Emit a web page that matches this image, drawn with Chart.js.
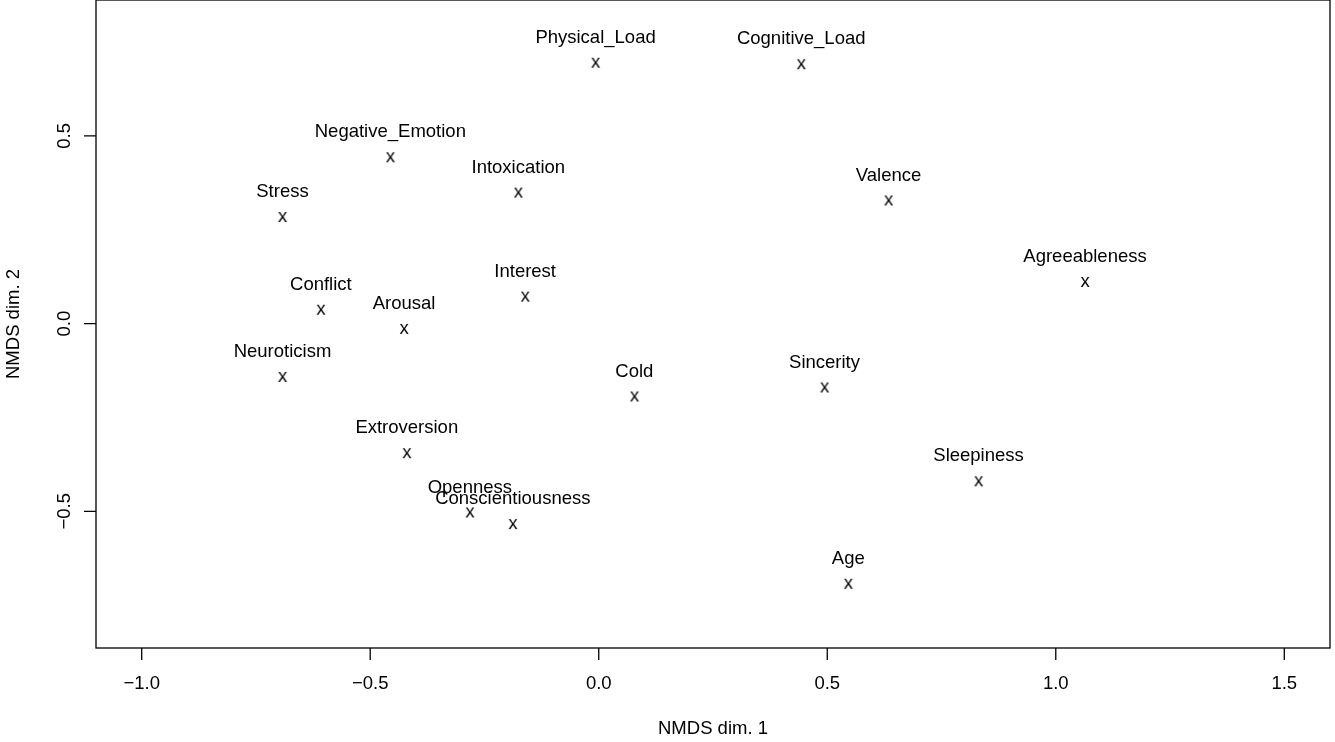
<!DOCTYPE html>
<html>
<head>
<meta charset="utf-8">
<title>NMDS ordination</title>
<script src="https://cdn.jsdelivr.net/npm/chart.js@4/dist/chart.umd.min.js"></script>
<style>
  html, body { margin: 0; padding: 0; background: #fff; }
  #wrap { width: 1335px; height: 742px; position: relative; }
</style>
</head>
<body>
<div id="wrap"><canvas id="nmds"></canvas></div>
<script>
// ── Data ──────────────────────────────────────────────────────────────────────

const LABELS = [
    'Physical_Load', 'Cognitive_Load', 'Negative_Emotion', 'Intoxication', 'Stress',
    'Valence', 'Agreeableness', 'Interest', 'Conflict', 'Arousal', 'Neuroticism',
    'Cold', 'Sincerity', 'Extroversion', 'Sleepiness', 'Openness',
    'Conscientiousness', 'Age',
];
const DIM1 = [
    -0.007, 0.443, -0.456, -0.176, -0.692,
    0.634, 1.064, -0.161, -0.608, -0.426, -0.692,
    0.078, 0.494, -0.420, 0.831, -0.282,
    -0.188, 0.546,
];
const DIM2 = [
    0.695, 0.691, 0.443, 0.349, 0.284,
    0.328, 0.111, 0.072, 0.037, -0.014, -0.142,
    -0.194, -0.170, -0.345, -0.420, -0.503,
    -0.534, -0.693,
];
const X_RANGE = [-1.1, 1.6];
const Y_RANGE = [-0.864, 0.862];
const TICK_STEP = 0.5;

const FONT_FAMILY = '"Liberation Sans", Arial, Helvetica, sans-serif';
const FONT_SIZE = 18.5;
const INK = '#000';

// ── Helpers ───────────────────────────────────────────────────────────────────

function fmt(v) {
    const s = Math.abs(v).toFixed(1);
    return v < 0 ? '\u2212' + s : s;
}

// R draws pch = 'x' as a plain glyph, so build a tiny canvas holding one
function glyphMarker(ch) {
    const c = document.createElement('canvas');
    c.width = 16; c.height = 16;
    const g = c.getContext('2d');
    g.font = `${FONT_SIZE}px ${FONT_FAMILY}`;
    g.fillStyle = INK;
    g.textAlign = 'center';
    g.textBaseline = 'alphabetic';
    g.fillText(ch, 8, 8 + FONT_SIZE * 0.26);
    return c;
}

// ── Plugins ───────────────────────────────────────────────────────────────────

const rAxes = {
    id: 'rAxes',
    afterDraw(chart) {
        const { ctx, chartArea: a, scales: { x, y } } = chart;
        ctx.save();
        ctx.strokeStyle = INK;
        ctx.lineWidth = 1.3;
        ctx.strokeRect(a.left, a.top, a.right - a.left, a.bottom - a.top);

        ctx.beginPath();
        x.ticks.forEach(t => {
            const px = x.getPixelForValue(t.value);
            ctx.moveTo(px, a.bottom);
            ctx.lineTo(px, a.bottom + 12);
        });
        y.ticks.forEach(t => {
            const py = y.getPixelForValue(t.value);
            ctx.moveTo(a.left - 12, py);
            ctx.lineTo(a.left, py);
        });
        ctx.stroke();

        // y tick labels read bottom-to-top like R's las = 0
        ctx.fillStyle = INK;
        ctx.font = `${FONT_SIZE}px ${FONT_FAMILY}`;
        ctx.textAlign = 'center';
        ctx.textBaseline = 'alphabetic';
        y.ticks.forEach(t => {
            const py = y.getPixelForValue(t.value);
            ctx.save();
            ctx.translate(70, py);
            ctx.rotate(-Math.PI / 2);
            ctx.fillText(fmt(t.value), 0, 0);
            ctx.restore();
        });
        ctx.restore();
    },
};

const pointLabels = {
    id: 'pointLabels',
    afterDatasetsDraw(chart) {
        const { ctx } = chart;
        const meta = chart.getDatasetMeta(0);
        ctx.save();
        ctx.fillStyle = INK;
        ctx.font = `${FONT_SIZE}px ${FONT_FAMILY}`;
        ctx.textAlign = 'center';
        ctx.textBaseline = 'middle';
        meta.data.forEach((pt, i) => {
            ctx.fillText(LABELS[i], pt.x, pt.y - 25);
        });
        ctx.restore();
    },
};

// ── Chart ─────────────────────────────────────────────────────────────────────

Chart.defaults.font.family = FONT_FAMILY;
Chart.defaults.font.size = FONT_SIZE;
Chart.defaults.color = INK;

const marker = glyphMarker('x');

new Chart(document.getElementById('nmds').getContext('2d'), {
    type: 'scatter',
    data: {
        datasets: [{
            label: 'NMDS',
            data: DIM1.map((v, i) => ({ x: v, y: DIM2[i] })),
            pointStyle: marker,
            pointRadius: 8,
            clip: false,
        }],
    },
    options: {
        responsive: true,
        maintainAspectRatio: false,
        animation: false,
        layout: { autoPadding: false, padding: { top: 0, right: 5, bottom: 0, left: 0 } },
        plugins: {
            legend: { display: false },
            tooltip: { enabled: false },
        },
        scales: {
            x: {
                type: 'linear',
                min: X_RANGE[0],
                max: X_RANGE[1],
                grid: { display: false, drawTicks: false },
                border: { display: false },
                ticks: {
                    stepSize: TICK_STEP,
                    includeBounds: false,
                    padding: 24.5,
                    maxRotation: 0,
                    color: INK,
                    callback: v => fmt(v),
                },
                title: {
                    display: true,
                    text: 'NMDS dim. 1',
                    color: INK,
                    padding: { top: 0, bottom: 2 },
                },
                afterFit(scale) { scale.height = 94; },
            },
            y: {
                type: 'linear',
                min: Y_RANGE[0],
                max: Y_RANGE[1],
                grid: { display: false, drawTicks: false },
                border: { display: false },
                ticks: { stepSize: TICK_STEP, includeBounds: false, display: false },
                title: {
                    display: true,
                    text: 'NMDS dim. 2',
                    color: INK,
                    padding: { top: 2.4, bottom: 0 },
                },
                afterFit(scale) { scale.width = 96; },
            },
        },
    },
    plugins: [rAxes, pointLabels],
});
</script>
</body>
</html>
